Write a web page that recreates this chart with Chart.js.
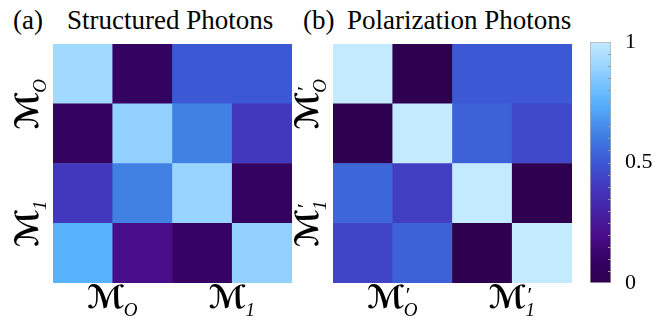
<!DOCTYPE html>
<html lang="en">
<head>
  <meta charset="UTF-8">
  <title>Structured vs Polarization Photons</title>
  <script src="https://cdn.jsdelivr.net/npm/chart.js"></script>
  <style>
    body { margin: 0; background: #fff; }
    #wrap { position: relative; width: 660px; height: 322px; overflow: hidden; }
    canvas { position: absolute; top: 0; }
    .ttl { position: absolute; top: 5px; font-family: "Liberation Serif", "DejaVu Serif", Times, serif; font-size: 27px; color: #000; white-space: nowrap; }
  </style>
</head>
<body>
<div id="wrap">
  <div class="ttl" style="left:13px">(a)</div>
  <div class="ttl" style="left:67px">Structured Photons</div>
  <div class="ttl" style="left:303px">(b)</div>
  <div class="ttl" style="left:347px">Polarization Photons</div>
  <canvas id="leftMap" width="330" height="322" style="left:0"></canvas>
  <canvas id="rightMap" width="300" height="322" style="left:280px"></canvas>
  <canvas id="cbar" width="80" height="322" style="left:580px"></canvas>
</div>

<script>
  // matrix values, row 0 is the top row
  const structuredRows = [
    [0.92, 0.08, 0.50, 0.50],
    [0.08, 0.88, 0.62, 0.40],
    [0.40, 0.62, 0.90, 0.08],
    [0.75, 0.20, 0.10, 0.88]
  ];
  const polarizationRows = [
    [1.00, 0.00, 0.50, 0.50],
    [0.00, 1.00, 0.53, 0.45],
    [0.54, 0.42, 1.00, 0.00],
    [0.44, 0.53, 0.00, 1.00]
  ];
  const columns = ['c0', 'c1', 'c2', 'c3'];
  const leftLabels = [{ sub: 'O', prime: false }, { sub: '1', prime: false }];
  const rightLabels = [{ sub: 'O', prime: true }, { sub: '1', prime: true }];
  const colorbarTicks = [0, 0.5, 1];

  const serif = '"Liberation Serif", "DejaVu Serif", Times, serif';

  // colormap: dark purple -> blue -> pale cyan
  const cmap = [
    [0.00, 46, 0, 80],
    [0.10, 54, 2, 100],
    [0.20, 72, 14, 138],
    [0.40, 66, 56, 190],
    [0.50, 60, 88, 212],
    [0.60, 62, 122, 224],
    [0.75, 88, 178, 252],
    [0.88, 145, 208, 255],
    [1.00, 195, 234, 255]
  ];
  function colorFor(v) {
    for (let i = 1; i < cmap.length; i++) {
      if (v <= cmap[i][0]) {
        const a = cmap[i - 1], b = cmap[i];
        const t = (v - a[0]) / (b[0] - a[0]);
        const c = [1, 2, 3].map(k => Math.round(a[k] + (b[k] - a[k]) * t));
        return `rgb(${c[0]},${c[1]},${c[2]})`;
      }
    }
    const l = cmap[cmap.length - 1];
    return `rgb(${l[1]},${l[2]},${l[3]})`;
  }

  function drawM(ctx, lab) {
    const fM = 'bold 32px "DejaVu Serif", "DejaVu Sans", serif';
    const fS = 'italic 19px ' + serif;
    ctx.font = fM;
    const wM = ctx.measureText('ℳ').width;
    ctx.font = fS;
    const wS = ctx.measureText(lab.sub).width;
    const x0 = -(wM + wS) / 2;
    ctx.fillStyle = '#000';
    ctx.textBaseline = 'middle';
    ctx.textAlign = 'left';
    ctx.font = fM;
    ctx.fillText('ℳ', x0, 0);
    ctx.font = fS;
    ctx.fillText(lab.sub, x0 + wM - 1, 11);
    if (lab.prime) {
      ctx.font = '22px ' + serif;
      ctx.fillText('′', x0 + wM + 1, -4);
    }
  }

  const axisLabels = {
    id: 'axisLabels',
    afterDraw(chart, args, opts) {
      const ctx = chart.ctx;
      const xs = chart.scales.x, ys = chart.scales.y;
      const area = chart.chartArea;
      const xPos = [0.5, 2.5], yPos = [3, 1];
      opts.labels.forEach((lab, i) => {
        ctx.save();
        ctx.translate(xs.getPixelForValue(xPos[i]), area.bottom + 17);
        drawM(ctx, lab);
        ctx.restore();
        ctx.save();
        ctx.translate(area.left - 23, ys.getPixelForValue(yPos[i]));
        ctx.rotate(-Math.PI / 2);
        drawM(ctx, lab);
        ctx.restore();
      });
    }
  };

  function heatmap(id, rows, labels, pad) {
    // stacked bars: first dataset at the bottom, so walk rows in reverse
    const datasets = rows.slice().reverse().map((r, i) => ({
      label: 'row' + (rows.length - 1 - i),
      data: r.map(() => 1),
      backgroundColor: r.map(colorFor),
      borderWidth: 0,
      barPercentage: 1,
      categoryPercentage: 1
    }));
    new Chart(document.getElementById(id), {
      type: 'bar',
      data: { labels: columns, datasets },
      options: {
        responsive: false,
        animation: false,
        layout: { padding: pad },
        plugins: { legend: { display: false }, tooltip: { enabled: false }, axisLabels: { labels } },
        scales: {
          x: { stacked: true, display: false },
          y: { stacked: true, display: false, min: 0, max: 4 }
        }
      },
      plugins: [axisLabels]
    });
  }

  heatmap('leftMap', structuredRows, leftLabels, { left: 53, top: 44, right: 38, bottom: 39 });
  heatmap('rightMap', polarizationRows, rightLabels, { left: 53, top: 44, right: 8, bottom: 39 });

  // colour bar
  const minorTicks = {
    id: 'minorTicks',
    afterDatasetsDraw(chart) {
      const ctx = chart.ctx, a = chart.chartArea, ys = chart.scales.y;
      ctx.save();
      ctx.strokeStyle = '#9a9a9a';
      ctx.lineWidth = 1;
      for (let v = 0.05; v < 1; v += 0.05) {
        const y = Math.round(ys.getPixelForValue(v)) + 0.5;
        ctx.beginPath();
        ctx.moveTo(a.right - 3, y);
        ctx.lineTo(a.right, y);
        ctx.stroke();
      }
      ctx.restore();
    }
  };

  new Chart(document.getElementById('cbar'), {
    type: 'bar',
    data: {
      labels: ['scale'],
      datasets: [{
        data: [1],
        backgroundColor: (c) => {
          const a = c.chart.chartArea;
          if (!a) return null;
          const g = c.chart.ctx.createLinearGradient(0, a.bottom, 0, a.top);
          cmap.forEach(s => g.addColorStop(s[0], `rgb(${s[1]},${s[2]},${s[3]})`));
          return g;
        },
        borderColor: '#b0b0b0',
        borderWidth: 1,
        borderSkipped: false,
        barPercentage: 1,
        categoryPercentage: 1
      }]
    },
    options: {
      responsive: false,
      animation: false,
      layout: { padding: { left: 10, top: 42, bottom: 39, right: 0 } },
      plugins: { legend: { display: false }, tooltip: { enabled: false } },
      scales: {
        x: { display: false },
        y: {
          position: 'right',
          min: 0,
          max: 1,
          afterFit: (s) => { s.width = 49; },
          afterBuildTicks: (s) => { s.ticks = colorbarTicks.map(v => ({ value: v })); },
          grid: { display: false },
          border: { display: false },
          ticks: {
            padding: 6,
            color: '#000',
            callback: (v) => String(v),
            font: { family: serif, size: 22 }
          }
        }
      }
    },
    plugins: [minorTicks]
  });
</script>

</body>
</html>
